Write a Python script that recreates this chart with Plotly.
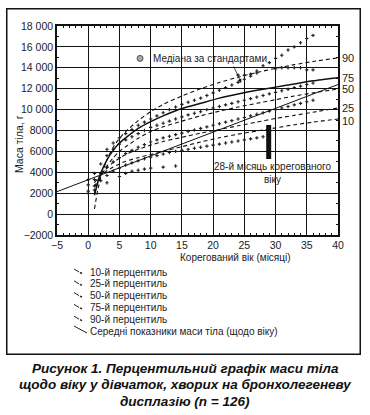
import plotly.graph_objects as go

# ---------------- data ----------------
fit_ages = [1, 1.5, 2, 3, 4, 5, 6, 8, 10, 12, 15, 18, 21, 24, 27, 30, 33, 36, 40]
p90 = [500, 2200, 3500, 5200, 6400, 7250, 7900, 8950, 9800, 10500, 11300, 12000, 12600, 13100, 13550, 13950, 14300, 14600, 14950]
p75 = [1800, 3000, 3900, 5200, 6100, 6800, 7300, 8200, 8850, 9400, 10100, 10600, 11100, 11500, 11850, 12150, 12450, 12750, 13050]
p50 = [2000, 2900, 3600, 4600, 5400, 6000, 6450, 7250, 7900, 8350, 8900, 9400, 9850, 10250, 10600, 10950, 11300, 11600, 11970]
p25 = [2600, 3200, 3700, 4400, 4950, 5350, 5700, 6200, 6600, 6950, 7350, 7750, 8100, 8450, 8800, 9150, 9450, 9750, 10150]
p10 = [3000, 3400, 3700, 4150, 4500, 4800, 5050, 5400, 5700, 6000, 6450, 6900, 7300, 7650, 7950, 8250, 8550, 8800, 9100]
percentile_labels = ["90", "75", "50", "25", "10"]

mean_ages = [-5, 40]
mean_weight = [2150, 12400]

rowA_months = list(range(3, 37))
rowA_values = [6200, 6800, 7300, 7700, 8100, 8500, 8800, 9100, 9400, 9700, 10000, 10250, 10500, 10700,
               10900, 11100, 11350, 11600, 11850, 12100, 12350, 12600, 12900, 13200, 13700, 14200,
               14500, 14900, 15200, 15700, 16000, 16400, 16800, 17100]
rowB_months = list(range(0, 37))
rowB_values = [3300, 3900, 4800, 5600, 6200, 6700, 7100, 7400, 7700, 8000, 8300, 8500, 8700, 8900, 9100,
               9300, 9500, 9650, 9800, 10000, 10150, 10300, 10450, 10600, 10750, 10900, 11050, 11200,
               11350, 11500, 11650, 11800, 11950, 12100, 12250, 12400, 12550]
rowC_months = list(range(0, 37))
rowC_values = [2800, 3300, 3900, 4500, 5000, 5400, 5800, 6100, 6400, 6650, 6900, 7100, 7300, 7450, 7600,
               7750, 7900, 8050, 8200, 8350, 8500, 8650, 8800, 8950, 9100, 9250, 9400, 9550, 9700,
               9850, 10000, 10150, 10300, 10450, 10600, 10750, 10900]
rowD_months = list(range(0, 29))
rowD_values = [2200, 2700, 3200, 3700, 4100, 4400, 4700, 4900, 5100, 5300, 5450, 5600, 5750, 5900, 6000,
               6100, 6200, 6300, 6400, 6500, 6600, 6700, 6800, 6900, 7000, 7100, 7200, 7300, 7400]
rowE_months = [0, 1, 3, 5, 6, 7, 8, 9, 10, 12, 14]
rowE_values = [2000, 2300, 3000, 3600, 3900, 4100, 4200, 4300, 4400, 4500, 4600]
rowF_months = [24, 25, 26, 27, 30, 31, 32, 33, 34, 35, 36]
rowF_values = [13300, 13300, 13400, 13500, 13900, 14000, 14000, 14000, 14000, 13800, 13800]

median_std_point = (8.3, 14900)
median_arrow_tail = (23.2, 14270)
median_arrow_head = (24.5, 12550)
month28_bar = (28.9, 5270, 8530)

legend_labels = ["10-й перцентиль", "25-й перцентиль", "50-й перцентиль", "75-й перцентиль",
                 "90-й перцентиль", "Середні показники маси тіла (щодо віку)"]
caption_lines = ["Рисунок 1. Перцентильний графік маси тіла",
                 "щодо віку у дівчаток, хворих на бронхолегеневу",
                 "дисплазію (n = 126)"]

y_ticks = [-2000, 0, 2000, 4000, 6000, 8000, 10000, 12000, 14000, 16000, 18000]
y_ticktext = ["−2000", "0", "2000", "4000", "6000", "8000", "10 000", "12 000", "14 000", "16 000", "18 000"]
x_ticks = [-5, 0, 5, 10, 15, 20, 25, 30, 35, 40]
x_ticktext = ["−5", "0", "5", "10", "15", "20", "25", "30", "35", "40"]

# ---------------- figure ----------------
W, H = 370, 415
ML, MR, MT, MB = 57, 32, 26, 180
PW, PH = W - ML - MR, H - MT - MB
FONT = "Liberation Sans, Arial, sans-serif"
INK = "#1c1c1c"


def px(xp):
    return (xp - ML) / PW


def py(yp):
    return (H - MB - yp) / PH


fig = go.Figure()

for mx, my in [(rowA_months, rowA_values), (rowB_months, rowB_values), (rowC_months, rowC_values),
               (rowD_months, rowD_values), (rowE_months, rowE_values), (rowF_months, rowF_values)]:
    fig.add_trace(go.Scatter(x=mx, y=my, mode="markers", showlegend=False, hoverinfo="skip",
                             marker=dict(symbol="cross", size=2.8, color="#222")))

curves = [p90, p75, p50, p25, p10]
for vals, lab in zip(curves, percentile_labels):
    solid = lab == "75"
    fig.add_trace(go.Scatter(x=fit_ages, y=vals, mode="lines", showlegend=False, hoverinfo="skip",
                             line=dict(color="#111", width=1.5 if solid else 1.1,
                                       dash="solid" if solid else "4px,3px",
                                       shape="spline", smoothing=0.6)))

fig.add_trace(go.Scatter(x=mean_ages, y=mean_weight, mode="lines", showlegend=False, hoverinfo="skip",
                         line=dict(color="#111", width=1)))

fig.add_trace(go.Scatter(x=[median_std_point[0]], y=[median_std_point[1]], mode="markers",
                         showlegend=False, hoverinfo="skip",
                         marker=dict(symbol="circle", size=6, color="#a8a8a8",
                                     line=dict(color="#555", width=1))))

axis_common = dict(showgrid=True, gridcolor="#111", gridwidth=1.3, showline=True, linecolor="#111",
                   linewidth=1.5, mirror="allticks", ticks="inside", ticklen=3, tickcolor="#111",
                   zeroline=False, tickfont=dict(family=FONT, size=10.5, color=INK))

fig.update_layout(
    width=W, height=H, margin=dict(l=ML, r=MR, t=MT, b=MB, autoexpand=False),
    paper_bgcolor="white", plot_bgcolor="white",
    xaxis=dict(range=[-5, 40], tickvals=x_ticks, ticktext=x_ticktext,
               minor=dict(dtick=1, ticks="inside", ticklen=2.5, tickcolor="#111", showgrid=False),
               **axis_common),
    yaxis=dict(range=[-2000, 18000], tickvals=y_ticks, ticktext=y_ticktext,
               minor=dict(dtick=1000, ticks="inside", ticklen=2.5, tickcolor="#111", showgrid=False),
               **axis_common),
)

ann = []
# outer frame drawn as an empty bordered box
ann.append(dict(x=px(183.5), y=py(181.5), xref="paper", yref="paper", text=" ", showarrow=False,
                xanchor="center", yanchor="middle", width=352, height=344, borderpad=0,
                bordercolor="#111", borderwidth=1.5, bgcolor="rgba(0,0,0,0)",
                font=dict(family=FONT, size=8, color=INK)))
# right-side percentile labels
for vals, lab in zip(curves, percentile_labels):
    ann.append(dict(x=40, y=vals[-1], xref="x", yref="y", text=lab, showarrow=False,
                    xanchor="left", yanchor="middle", xshift=2, yshift=-2 if lab == "10" else 0,
                    font=dict(family=FONT, size=11, color=INK)))
# median by standards
ann.append(dict(x=median_std_point[0] + 1.75, y=median_std_point[1], xref="x", yref="y",
                text="Медіана за стандартами", showarrow=False, xanchor="left", yanchor="middle",
                font=dict(family=FONT, size=10, color=INK)))
ann.append(dict(x=median_arrow_head[0], y=median_arrow_head[1], xref="x", yref="y",
                ax=median_arrow_tail[0], ay=median_arrow_tail[1], axref="x", ayref="y",
                text="", showarrow=True, arrowhead=2, arrowsize=1, arrowwidth=0.8, arrowcolor="#111"))
# 28th month note
ann.append(dict(x=29.45, y=3930, xref="x", yref="y", text="28-й місяць корегованого<br>віку",
                showarrow=False, align="center", xanchor="center", yanchor="middle",
                font=dict(family=FONT, size=10, color=INK)))
# axis titles
ann.append(dict(x=px(19), y=py(144), xref="paper", yref="paper", text="Маса тіла, г", textangle=-90,
                showarrow=False, xanchor="center", yanchor="middle",
                font=dict(family=FONT, size=10.5, color=INK)))
ann.append(dict(x=px(236), y=py(257.5), xref="paper", yref="paper", text="Корегований вік (місяці)",
                showarrow=False, xanchor="center", yanchor="middle",
                font=dict(family=FONT, size=10, color=INK)))
# legend
leg_y0, leg_dy = 272, 11.8
shapes = []
for i, lab in enumerate(legend_labels):
    yy = leg_y0 + i * leg_dy
    ann.append(dict(x=px(88), y=py(yy), xref="paper", yref="paper", text=lab, showarrow=False,
                    xanchor="left", yanchor="middle", font=dict(family=FONT, size=10, color=INK)))
    if i < 5:
        shapes.append(dict(type="line", xref="paper", yref="paper", x0=px(74), y0=py(yy - 3),
                           x1=px(79), y1=py(yy), line=dict(color="#222", width=1)))
        shapes.append(dict(type="line", xref="paper", yref="paper", x0=px(80), y0=py(yy + 0.5),
                           x1=px(82), y1=py(yy + 1.5), line=dict(color="#222", width=1.4)))
    else:
        shapes.append(dict(type="line", xref="paper", yref="paper", x0=px(74), y0=py(yy - 5),
                           x1=px(87), y1=py(yy + 2), line=dict(color="#222", width=1)))
# caption
for i, line in enumerate(caption_lines):
    ann.append(dict(x=px(185), y=py(368 + i * 16.6), xref="paper", yref="paper",
                    text="<b><i>" + line + "</i></b>", showarrow=False,
                    xanchor="center", yanchor="middle",
                    font=dict(family=FONT, size=13.5, color="#111")))

# month-28 bar
shapes.append(dict(type="line", xref="x", yref="y", x0=month28_bar[0], x1=month28_bar[0],
                   y0=month28_bar[1], y1=month28_bar[2], line=dict(color="#111", width=5)))

fig.update_layout(annotations=ann, shapes=shapes)
fig.write_html("out.html", config={"displayModeBar": False},
               post_script="document.body.style.margin='0px';")
